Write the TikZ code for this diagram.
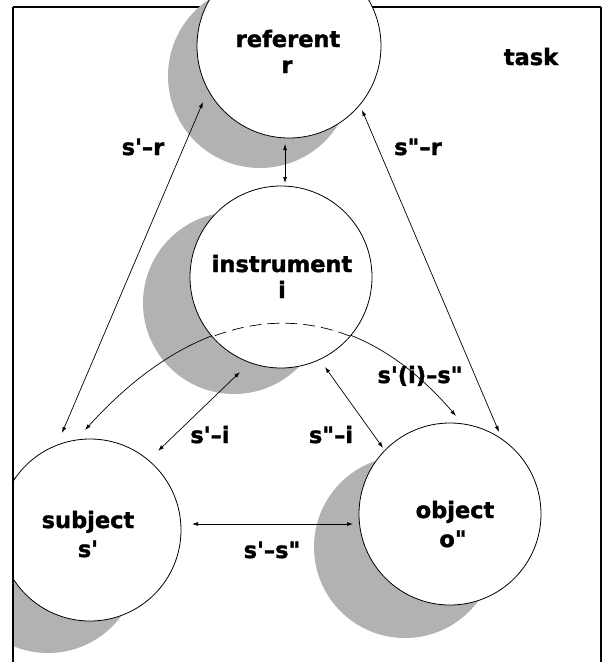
\documentclass[tikz,border=0pt]{standalone}
\usepackage{fontspec}
\setmainfont{DejaVu Sans}
\newfontfamily\lblfont{DejaVu Sans Bold}[FakeBold=1.6]
\usetikzlibrary{arrows.meta}
\definecolor{shadegray}{gray}{0.7}
% straight quote marks, kept out of the TeX quote mapping
\newcommand\sq{\symbol{39}}
\newcommand\dq{\symbol{34}}
\begin{document}
\begin{tikzpicture}[x=1pt,y=-1pt,
  shadowdisc/.style={circle,fill=shadegray,inner sep=0pt,minimum size=#1},
  shadowdisc/.default=182pt,
  disc/.style={circle,draw,fill=white,line width=0.8pt,inner sep=0pt,minimum size=#1},
  disc/.default=182pt,
  lbl/.style={font=\lblfont\fontsize{22.5}{27}\selectfont,anchor=base,inner sep=0pt},
  tip/.tip={Latex[length=6pt,width=4pt]},
  link/.style={line width=0.7pt,tip-tip},
  frameline/.style={line width=2pt}]
\useasboundingbox (0,0) rectangle (606,662);

% top edge of the frame (lies under the referent disc)
\draw[frameline] (13,7) -- (601,7);

\begin{scope}
\clip (13,-20) rectangle (620,700);
% drop shadows
\node[shadowdisc=184pt] (refsh) at (260,76) {};
\node[shadowdisc] (insh) at (234,303) {};
\node[shadowdisc] (subsh) at (48,562) {};
\node[shadowdisc] (objsh) at (405,547) {};

% connector end points
\coordinate (riA) at (285,144);  \coordinate (riB) at (285,183);
\coordinate (srA) at (62,433);   \coordinate (srB) at (203,102);
\coordinate (orA) at (499,432);  \coordinate (orB) at (362,110);
\coordinate (siA) at (158,451);  \coordinate (siB) at (240,372);
\coordinate (oiA) at (383,448);  \coordinate (oiB) at (325,367);
\coordinate (soA) at (192,524);  \coordinate (soB) at (353,524);
\coordinate (arcL) at (85,430);  \coordinate (arcR) at (456,416);

\draw[link] (riA) -- (riB);
\draw[link] (srA) -- (srB);
\draw[link] (orA) -- (orB);
\draw[link] (siA) -- (siB);
\draw[link] (oiA) -- (oiB);
\draw[link] (soA) -- (soB);
\draw[link] (arcL) .. controls (212,290) and (348,290) .. (arcR);

% the four discs
\node[disc=184pt] (referent) at (289,46) {};
\node[disc] (instrument) at (281,277) {};
\node[disc] (subject) at (90,530) {};
\node[disc] (object) at (450,514) {};

% hidden part of the s'(i)-s" arc, seen through the instrument disc
\begin{scope}
\clip (instrument.center) circle (90.5);
\draw[line width=0.7pt,dash pattern=on 12pt off 6pt]
  (arcL) .. controls (212,290) and (348,290) .. (arcR);
\end{scope}
\end{scope}

% side edges of the frame
\draw[frameline] (13,7) -- (13,670);
\draw[frameline] (601,7) -- (601,670);

% disc captions
\node[lbl] (reftxt) at (288,47) {referent};
\node[lbl] (refsym) at (287,73) {r};
\node[lbl] (insttxt) at (282,272) {instrument};
\node[lbl] (instsym) at (282,298) {i};
\node[lbl] (subtxt) at (88,528) {subject};
\node[lbl] (subsym) at (88,557) {s\sq};
\node[lbl] (objtxt) at (455,518) {object};
\node[lbl] (objsym) at (453,547) {o\dq};

% relation labels
\node[lbl] (task) at (531,65) {task};
\node[lbl] (srlab) at (143,155) {s\sq–r};
\node[lbl] (orlab) at (418,155) {s\dq–r};
\node[lbl] (silab) at (210,443) {s\sq–i};
\node[lbl] (oilab) at (331,443) {s\dq–i};
\node[lbl] (siolab) at (420,383) {s\sq(i)–s\dq};
\node[lbl] (solab) at (272,558) {s\sq–s\dq};
\end{tikzpicture}
\end{document}
